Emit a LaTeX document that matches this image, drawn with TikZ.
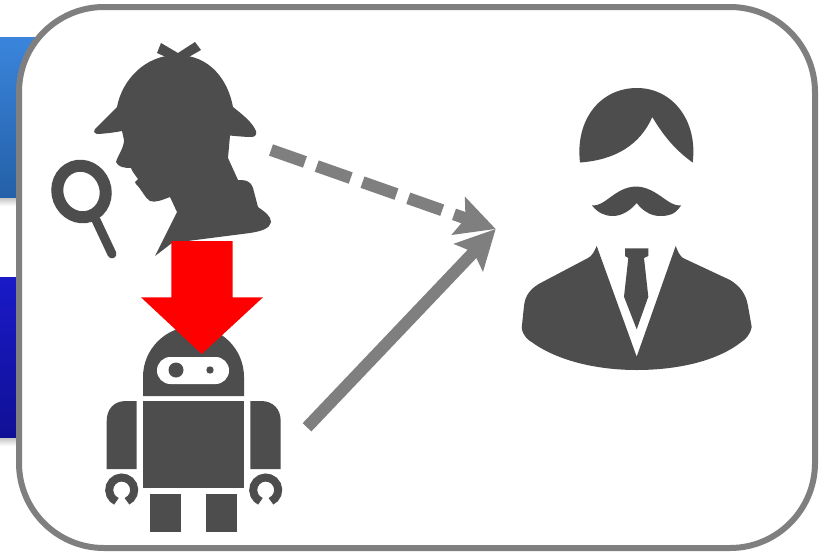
\documentclass[tikz,border=0pt]{standalone}
\usepackage{xcolor}
\usetikzlibrary{arrows.meta}
\definecolor{grisFonce}{RGB}{77, 77, 77}
\definecolor{grisFleche}{RGB}{127, 127, 127}
\definecolor{bleuHaut}{RGB}{58, 133, 220}
\definecolor{bleuBas}{RGB}{36, 96, 168}
\definecolor{indigoHaut}{RGB}{26, 26, 200}
\definecolor{indigoBas}{RGB}{16, 16, 150}
\definecolor{ombre}{RGB}{190, 190, 190}

\begin{document}
\begin{tikzpicture}[
  x=1pt, y=-1pt,
  icon/.style={fill=grisFonce, draw=none},
  hole/.style={fill=white, draw=none},
  arr/.style={-{Stealth[length=39pt, width=39pt, inset=7pt]},
    line width=12pt, draw=grisFleche},
  hand/.style={draw=grisFonce, line width=8pt},
  shade/.style={top color=ombre, bottom color=white, draw=none},
]
\useasboundingbox (0, 0) rectangle (833, 552);
\fill[white] (0, 0) rectangle (833, 552);

\shade[shade] (0, 197) rectangle (19, 206);
\shade[shade] (0, 437) rectangle (19, 446);
\shade[top color=bleuHaut, bottom color=bleuBas] (0, 37) rectangle (40, 197);
\shade[top color=indigoHaut, bottom color=indigoBas] (0, 277) rectangle (19, 437);

\draw[draw=grisFleche, fill=white, line width=6pt, rounded corners=85pt]
  (19, 7) rectangle (815, 548);

% detective
\fill[icon] (161, 43) -- (178, 53) -- (195, 42) -- (201, 50) -- (187, 58)
  -- (166, 57) -- (157, 53) -- cycle;
\fill[icon] (117, 107) .. controls (122, 80) and (145, 55) .. (177, 55)
  .. controls (210, 55) and (228, 80) .. (233, 107)
  .. controls (243, 115) and (252, 122) .. (256, 131)
  .. controls (257, 135) and (255, 137) .. (251, 137)
  .. controls (245, 137) and (235, 136) .. (230, 135.5)
  -- (228, 158) -- (238, 180)
  .. controls (245, 180) and (250, 180) .. (253, 188)
  -- (258, 207)
  .. controls (265, 212) and (271, 216) .. (271, 222)
  .. controls (270, 228) and (263, 231) .. (250, 233)
  -- (172, 243) -- (155, 256) -- (177, 212) -- (170, 197)
  .. controls (162, 200) and (155, 203) .. (150, 201)
  .. controls (145, 198) and (142, 190) .. (136, 184)
  -- (135, 182) -- (138, 179) -- (133, 172) -- (131, 168)
  .. controls (124, 168) and (118, 167) .. (116, 162)
  .. controls (118, 155) and (124, 148) .. (124, 140)
  -- (122, 131)
  .. controls (112, 133) and (100, 134) .. (97, 134)
  -- (94, 132) -- (95, 129) -- cycle;
\draw[draw=grisFonce, line width=12pt, rotate around={20:(81.5, 191.5)}]
  (81.5, 191.5) ellipse [x radius=24pt, y radius=26pt];
\draw[draw=grisFonce, line width=9pt, line cap=round] (96, 220) -- (112, 254);

% robot
\fill[icon] (143, 396) -- (143, 377) arc [start angle=180, end angle=0, radius=50.5pt]
  -- (244, 396) -- cycle;
\fill[hole, rounded corners=13.4pt] (157, 357) rectangle (229, 384);
\fill[icon] (176, 370) circle [radius=7.5pt];
\fill[icon] (210, 370) circle [radius=3.7pt];
\fill[icon] (143, 401) rectangle (244, 488);
\fill[icon] (136.7, 401) -- (126, 401)
  .. controls (114, 401) and (106.7, 409) .. (106.7, 421)
  -- (106.7, 469) -- (136.7, 469) -- cycle;
\fill[icon] (250.3, 401) -- (261, 401)
  .. controls (273, 401) and (280.7, 409) .. (280.7, 421)
  -- (280.7, 469) -- (250.3, 469) -- cycle;
\fill[icon] (150.3, 493.7) rectangle (180.7, 531.7);
\fill[icon] (206, 493.7) rectangle (236.7, 531.7);
\foreach \cx in {121.7, 265.7}
  \draw[hand] (\cx, 490) ++(-65:12.5pt) arc [start angle=-65, end angle=245, radius=12.5pt];

% person
\fill[icon] (580, 162.5) .. controls (575, 120) and (600, 88) .. (637, 88)
  .. controls (672, 88) and (698, 120) .. (692.7, 162.5)
  .. controls (675, 150) and (663, 135) .. (652.3, 117)
  .. controls (640, 145) and (615, 160) .. (580, 162.5) -- cycle;
\fill[icon] (592, 205.5) .. controls (605, 207) and (615, 187) .. (636, 186.5)
  .. controls (657, 187) and (668, 207) .. (681, 205.5)
  .. controls (675, 215) and (668, 216) .. (660, 216)
  .. controls (650, 216) and (642, 210) .. (636.7, 203)
  .. controls (631, 210) and (622, 216) .. (613, 216)
  .. controls (605, 216) and (598, 213) .. (592, 205.5) -- cycle;
\fill[icon] (596.7, 246) .. controls (594, 252) and (592, 256) .. (588, 258)
  -- (543, 281.7)
  .. controls (530, 288) and (525, 296) .. (524, 306)
  -- (521.7, 328)
  .. controls (523, 336) and (528, 340) .. (533, 343)
  .. controls (560, 362) and (600, 370) .. (636.7, 370)
  .. controls (675, 370) and (715, 362) .. (740, 343)
  .. controls (746, 339) and (750, 335) .. (751.7, 327)
  -- (748, 306)
  .. controls (746, 294) and (740, 286) .. (730, 280)
  -- (683, 258)
  .. controls (680, 256) and (678, 252) .. (675.7, 246)
  -- (636.7, 356.7) -- cycle;
\fill[icon] (625, 248.3) -- (648.3, 248.3) -- (648.3, 256) -- (644, 258)
  -- (648.3, 296.7) -- (636.7, 329.3) -- (624, 296.7) -- (628.3, 258)
  -- (625, 256) -- cycle;

% arrows
\coordinate (detective) at (271, 150);
\coordinate (robot) at (307, 427.3);
\coordinate (person) at (495.7, 229);
\draw[arr, dash pattern=on 36pt off 12.5pt] (detective) -- (person);
\draw[arr] (robot) -- (person);

\fill[red] (171.3, 241) -- (232.7, 241) -- (232.7, 297.3) -- (263, 297.3)
  -- (201.7, 354) -- (141, 297.3) -- (171.3, 297.3) -- cycle;
\end{tikzpicture}
\end{document}
